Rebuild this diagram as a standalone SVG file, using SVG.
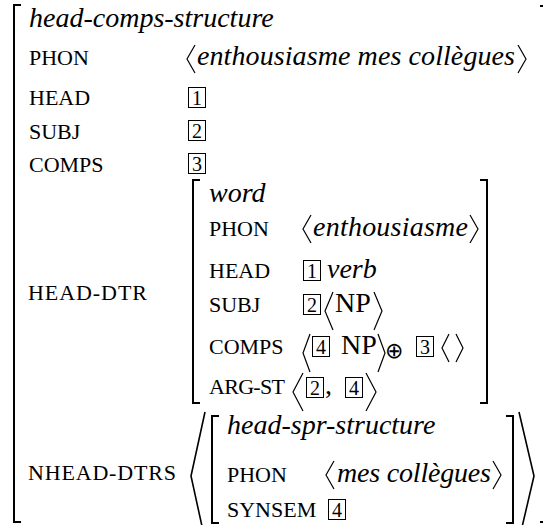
<svg xmlns="http://www.w3.org/2000/svg" width="543" height="525" viewBox="0 0 543 525">
<style>
.t{font-family:"Liberation Serif","Times New Roman",serif;fill:#000}
.it{font-style:italic;font-size:28px}
.lb{font-size:22px}
.rm{font-size:28px}
.n{font-size:20px;text-anchor:middle}
.op{font-family:"DejaVu Sans","DejaVu Serif",sans-serif;font-size:22px;fill:#000}
.br{fill:none;stroke:#000;stroke-width:2}
.ang{fill:none;stroke:#000;stroke-width:1.2}
.bang{fill:none;stroke:#000;stroke-width:1.6}
.box{fill:none;stroke:#000;stroke-width:1}
</style>
<rect width="543" height="525" fill="#fff"/>
<g id="outer">
<path class="br" d="M21,5 H14 V522 H21"/>
<path class="br" d="M540,6 H549 V522 H540"/>
<text class="t it" x="29" y="27">head-comps-structure</text>
<text class="t lb" x="29" y="65">PHON</text>
<polyline class="ang" points="195,45 187,59 195,73"/>
<text class="t it" x="197" y="65" textLength="318" lengthAdjust="spacing">enthousiasme mes collègues</text>
<polyline class="ang" points="518,45 526,59 518,73"/>
<text class="t lb" x="29" y="105">HEAD</text>
<rect class="box" x="188.5" y="87.5" width="17" height="20"/>
<text class="t n" x="197" y="104.5">1</text>
<text class="t lb" x="29" y="139">SUBJ</text>
<rect class="box" x="188.5" y="120.5" width="17" height="20"/>
<text class="t n" x="197" y="137.5">2</text>
<text class="t lb" x="29" y="172">COMPS</text>
<rect class="box" x="188.5" y="153.5" width="17" height="20"/>
<text class="t n" x="197" y="170.5">3</text>
<text class="t lb" x="28" y="300" textLength="119" lengthAdjust="spacing">HEAD-DTR</text>
<text class="t lb" x="28" y="480" textLength="148" lengthAdjust="spacing">NHEAD-DTRS</text>
</g>
<g id="head-dtr">
<path class="br" d="M200,180 H193 V403 H200"/>
<path class="br" d="M480,180 H487 V403 H480"/>
<text class="t it" x="209" y="202">word</text>
<text class="t lb" x="209" y="236">PHON</text>
<polyline class="ang" points="311,215 303,229 311,243"/>
<text class="t it" x="313" y="236" textLength="155" lengthAdjust="spacing">enthousiasme</text>
<polyline class="ang" points="470,215 478,229 470,243"/>
<text class="t lb" x="209" y="278">HEAD</text>
<rect class="box" x="303.5" y="260.5" width="17" height="20"/>
<text class="t n" x="312" y="277.5">1</text>
<text class="t it" x="327" y="278">verb</text>
<text class="t lb" x="209" y="312">SUBJ</text>
<rect class="box" x="303.5" y="294.5" width="17" height="20"/>
<text class="t n" x="312" y="311.5">2</text>
<polyline class="ang" points="333,292 325,311 333,330"/>
<text class="t rm" x="335" y="312">NP</text>
<polyline class="ang" points="374,292 382,311 374,330"/>
<text class="t lb" x="209" y="354">COMPS</text>
<polyline class="ang" points="310,334 303,353 310,372"/>
<rect class="box" x="312.5" y="336.5" width="17" height="20"/>
<text class="t n" x="321" y="353.5">4</text>
<text class="t rm" x="341" y="354">NP</text>
<polyline class="ang" points="378,334 385,353 378,372"/>
<text class="op" x="385" y="358">⊕</text>
<rect class="box" x="416.5" y="336.5" width="17" height="20"/>
<text class="t n" x="425" y="353.5">3</text>
<polyline class="ang" points="449,334 442,348 449,362"/>
<polyline class="ang" points="456,334 463,348 456,362"/>
<text class="t lb" x="209" y="394" textLength="76" lengthAdjust="spacing">ARG-ST</text>
<polyline class="ang" points="303,373 293,392 303,411"/>
<rect class="box" x="306.5" y="377.5" width="17" height="20"/>
<text class="t n" x="315" y="394.5">2</text>
<text class="t rm" x="325" y="394">,</text>
<rect class="box" x="345.5" y="377.5" width="17" height="20"/>
<text class="t n" x="354" y="394.5">4</text>
<polyline class="ang" points="366,373 376,392 366,411"/>
</g>
<g id="nhead-dtrs">
<polyline class="bang" points="205,412 191,476 205,540"/>
<path class="br" d="M219,416 H212 V523 H219"/>
<path class="br" d="M506,416 H513 V523 H506"/>
<polyline class="bang" points="519,412 534,476 519,540"/>
<text class="t it" x="227" y="434">head-spr-structure</text>
<text class="t lb" x="227" y="482">PHON</text>
<polyline class="ang" points="334,461 326,475 334,489"/>
<text class="t it" x="337" y="482" textLength="154" lengthAdjust="spacing">mes collègues</text>
<polyline class="ang" points="493,461 501,475 493,489"/>
<text class="t lb" x="227" y="517">SYNSEM</text>
<rect class="box" x="328.5" y="499.5" width="17" height="20"/>
<text class="t n" x="337" y="516.5">4</text>
</g>
</svg>
